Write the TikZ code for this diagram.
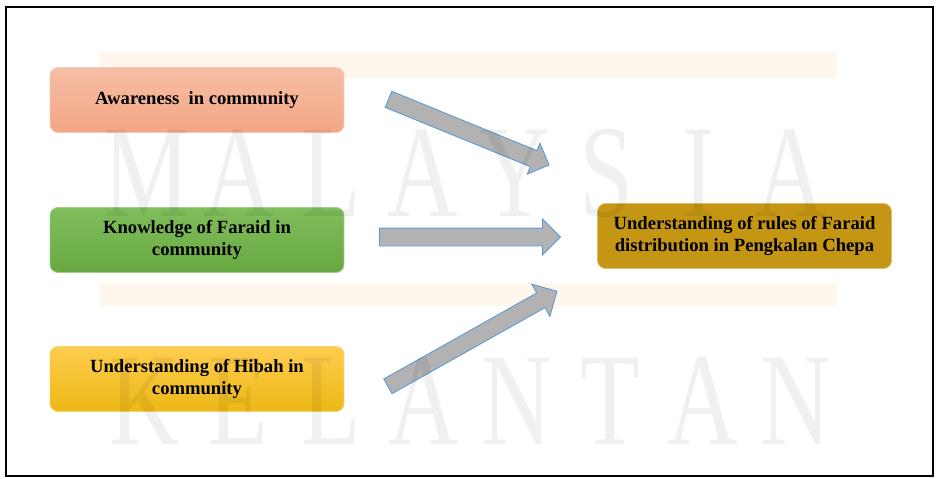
\documentclass[tikz,border=0pt]{standalone}
\usepackage{fontspec}
\setmainfont{Liberation Serif}
\usetikzlibrary{shapes.arrows}

\definecolor{awtop}{RGB}{246,190,164}
\definecolor{awbot}{RGB}{243,166,132}
\definecolor{kntop}{RGB}{128,190,92}
\definecolor{knbot}{RGB}{104,168,64}
\definecolor{hbtop}{RGB}{255,205,80}
\definecolor{hbbot}{RGB}{236,184,20}
\definecolor{gold}{RGB}{196,150,20}
\definecolor{arrowblue}{RGB}{91,155,213}
\definecolor{barorange}{RGB}{255,246,238}

\tikzset{
  factor/.style={rounded corners=0.16cm, minimum width=5.88cm, minimum height=1.3cm,
    align=center, font=\fontsize{10.6}{13}\selectfont\bfseries, draw=#1!60!white, line width=0.5pt},
  blockarrow/.style={single arrow, draw=arrowblue, fill=gray!60, line width=0.5pt,
    single arrow head extend=0.18cm, inner sep=0.17cm, sloped, midway},
  watermark/.style={anchor=base, text=black, text opacity=0.06, xscale=0.74,
    font=\fontsize{75}{75}\selectfont}
}

\begin{document}
\begin{tikzpicture}[x=0.02cm, y=-0.02cm]
  \useasboundingbox (0,0) rectangle (937,478);

  % Faint bars behind
  \fill[barorange] (100,52) rectangle (837,78);
  \fill[barorange] (100,283) rectangle (837,306);

  % Factors
  \node[factor=awbot, top color=awtop, bottom color=awbot] (aware) at (197,100)
    {Awareness\ \ in community};
  \node[factor=knbot, top color=kntop, bottom color=knbot] (know) at (197,240)
    {Knowledge of Faraid in\\community};
  \node[factor=hbbot, top color=hbtop, bottom color=hbbot] (hibah) at (197,379)
    {Understanding of Hibah in\\community};
  % Outcome
  \node[factor=gold, fill=gold] (rules) at (744.5,236)
    {Understanding of rules of Faraid\\distribution in Pengkalan Chepa};

  % Arrow ends
  \coordinate (aware-tail) at (384.5,97.7);
  \coordinate (aware-tip) at (545,163.3);
  \coordinate (know-tail) at (375,237);
  \coordinate (know-tip) at (556,237);
  \coordinate (hibah-tail) at (384.2,388.4);
  \coordinate (hibah-tip) at (553.3,293.3);

  % Block arrows
  \path (aware-tail) -- (aware-tip)
    node[blockarrow, minimum height=3.47cm, inner sep=0.165cm, single arrow head extend=0.16cm] (aware-arrow) {};
  \path (know-tail) -- (know-tip)
    node[blockarrow, minimum height=3.62cm] (know-arrow) {};
  \path (hibah-tail) -- (hibah-tip)
    node[blockarrow, minimum height=3.88cm, inner sep=0.16cm, single arrow head extend=0.2cm] (hibah-arrow) {};

  % Watermark
  \foreach \ch [count=\i from 0] in {M,A,L,A,Y,S,I,A}
    \node[watermark] at (147+92*\i,216) {\ch};
  \foreach \ch [count=\i from 0] in {K,E,L,A,N,T,A,N}
    \node[watermark] at (145+93*\i,444) {\ch};

  % Frame
  \draw[line width=1.6pt] (6,7) rectangle (933,476);
\end{tikzpicture}
\end{document}
